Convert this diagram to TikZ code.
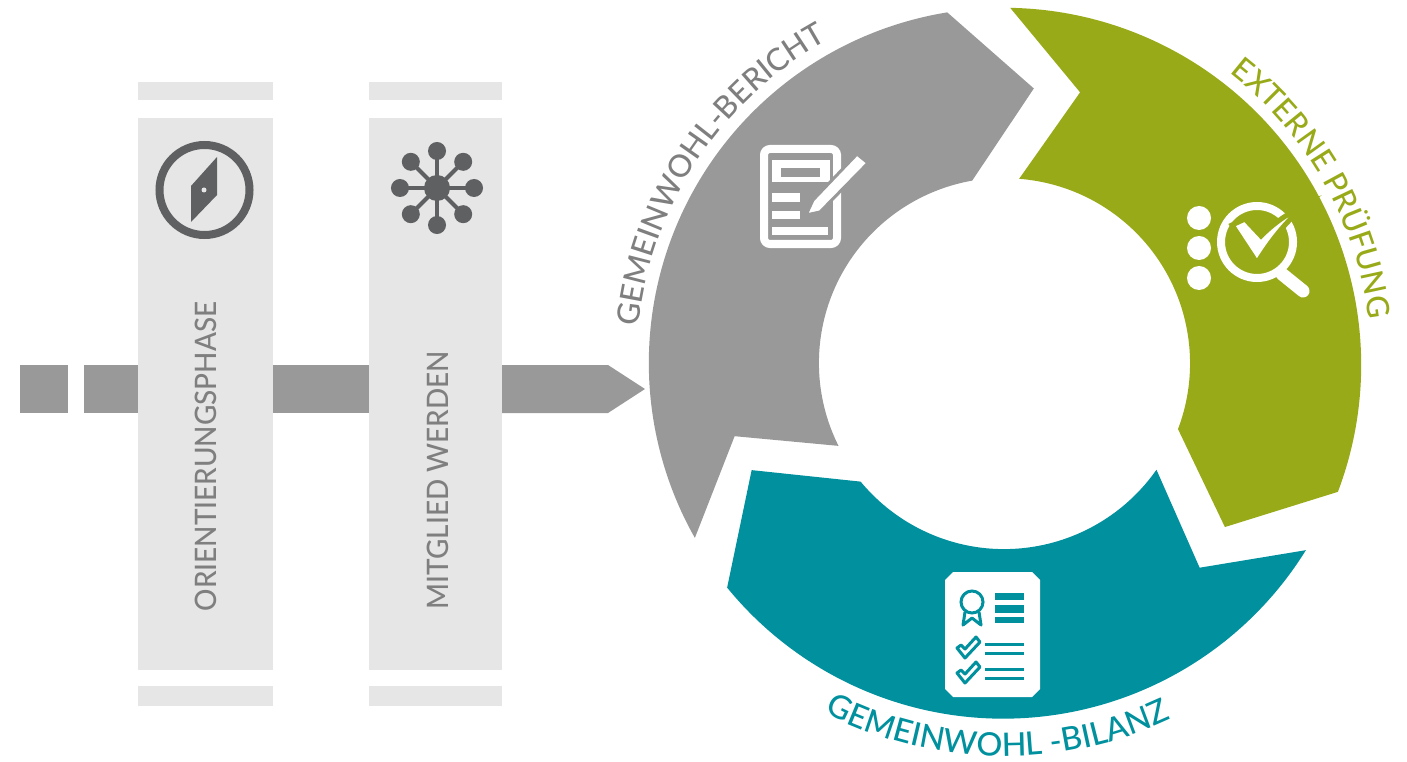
\documentclass[tikz,border=0pt]{standalone}
\usepackage{fontspec}
\setsansfont{Lato}
\newfontfamily\gwfont[FakeStretch=0.945]{Lato Medium}
\newfontfamily\ringface{Lato Medium}
\usetikzlibrary{decorations.text}

\definecolor{gwgrey}{HTML}{999999}
\definecolor{gwlight}{HTML}{E6E6E6}
\definecolor{gwdark}{HTML}{5E6062}
\definecolor{gwtext}{HTML}{7F7F7F}
\definecolor{gwgreen}{HTML}{99AA19}
\definecolor{gwteal}{HTML}{00909E}

\newcommand{\ringfont}{\ringface\fontsize{8.8}{9}\selectfont}
\newcommand{\bottomfont}{\ringface\fontsize{9.2}{9}\selectfont}

\tikzset{
    lightbar/.style={fill=gwlight},
    greybar/.style={fill=gwgrey},
    phaselabel/.style={rotate=90, text=gwtext, font=\gwfont\fontsize{8.4}{9}\selectfont, inner sep=0pt},
    whiteline/.style={fill=white}
}

\begin{document}
\begin{tikzpicture}[x=0.01cm, y=-0.01cm]
    \useasboundingbox (0,0) rectangle (1407,761);

    % Phase columns
    \foreach \xa/\xb in {138/273, 369/502} {
        \fill[lightbar] (\xa,82) rectangle (\xb,100);
        \fill[lightbar] (\xa,118) rectangle (\xb,670);
        \fill[lightbar] (\xa,686) rectangle (\xb,706);
    }
    \node[phaselabel] (orientierung) at (206,456.5) {ORIENTIERUNGSPHASE};
    \node[phaselabel] (mitglied) at (437.5,480) {MITGLIED WERDEN};

    % Grey arrow pieces
    \foreach \xa/\xb in {20/68, 84/138, 273/369} {
        \fill[greybar] (\xa,365) rectangle (\xb,413);
    }
    \fill[greybar] (502,365) -- (608,365) -- (645,389) -- (608,413) -- (502,413) -- cycle;

    % Compass
    \draw[gwdark, line width=0.08cm] (204.5,190) circle (45);
    \fill[gwdark] (217,157) -- (191,186) -- (191,222) -- (217,195) -- cycle;
    \fill[gwlight] (204,190) circle (2.5);

    % Network
    \foreach \a in {0,45,...,315} {
        \draw[gwdark, line width=0.04cm] (437,188) -- +(\a:0.37cm);
        \fill[gwdark] (437,188) ++(\a:0.37cm) circle (9);
    }
    \fill[gwdark] (437,188) circle (13);

    % Ring segments
    \begin{scope}[shift={(1004,363)}]
        \fill[gwgrey] (99.2:3.55cm) arc[start angle=99.2, end angle=209.5, radius=3.55cm]
            -- (195.2:2.79cm) -- (206.6:1.85cm)
            arc[start angle=206.6, end angle=99.9, radius=1.85cm] -- (83.8:2.76cm) -- cycle;
        \fill[gwgreen] (89:3.55cm) arc[start angle=89, end angle=-20.8, radius=3.57cm]
            -- (-36.6:2.75cm) -- (-20.8:1.86cm)
            arc[start angle=-20.8, end angle=85.6, radius=1.85cm] -- (74.3:2.81cm) -- cycle;
        \fill[gwteal] (-31.8:3.55cm) arc[start angle=-31.8, end angle=-140.8, radius=3.56cm]
            -- (203:2.74cm) -- (219.6:1.86cm)
            arc[start angle=219.6, end angle=325, radius=1.86cm] -- (-46.3:2.83cm) -- cycle;

        % Ring labels
        \path[decorate, decoration={text along path, text align=center,
            text={|\ringfont\color{gwtext}|GEMEINWOHL-BERICHT}}]
            (178:3.67cm) arc[start angle=178, end angle=115, radius=3.67cm];
        \path[decorate, decoration={text along path, text align=center,
            text={|\ringfont\color{gwgreen}|EXTERNE PRÜFUNG}}]
            (55:3.67cm) arc[start angle=55, end angle=4, radius=3.67cm];
        \path[decorate, decoration={text along path, text align=center,
            text={|\bottomfont\color{gwteal}|GEMEINWOHL -BILANZ}}]
            (238:3.93cm) arc[start angle=238, end angle=300, radius=3.93cm];
    \end{scope}

    % Report icon
    \draw[white, line width=0.08cm, rounded corners=0.06cm] (764,149) rectangle (837,244);
    \fill[white] (772,160) rectangle (830,182);
    \fill[gwgrey] (781,168) rectangle (820,177);
    \foreach \ya/\yb/\xb in {193/202/800, 211/219/800, 227/235/828} {
        \fill[whiteline] (772,\ya) rectangle (\xb,\yb);
    }
    \filldraw[fill=white, draw=gwgrey, line width=0.03cm] (857,154) -- (868,163) -- (820,212) -- (806,215) -- (813,200) -- cycle;

    % Check icon
    \foreach \y in {218, 248, 278} {
        \fill[white] (1199,\y) circle (12);
    }
    \draw[white, line width=0.08cm] (1257,242) circle (36);
    \draw[white, line width=0.13cm, line cap=round] (1282,274) -- (1303,291);
    \filldraw[fill=white, draw=gwgreen, line width=0.05cm] (1232,225) -- (1245,219) -- (1261,236)
        .. controls (1275,222) and (1290,212) .. (1306,205)
        .. controls (1285,222) and (1270,242) .. (1257,263) -- cycle;

    % Balance sheet icon
    \fill[white] (953,572) -- (1032,572) -- (1040,580) -- (1040,689) -- (1032,697)
        -- (953,697) -- (945,689) -- (945,580) -- cycle;
    \draw[gwteal, line width=0.03cm] (972,602) circle (11);
    \draw[gwteal, line width=0.03cm, line join=round] (965,612) -- (963,625) -- (972,618) -- (981,625) -- (979,612);
    \foreach \ya/\yb in {593/600, 605/613, 617/623} {
        \fill[gwteal] (995,\ya) rectangle (1024,\yb);
    }
    \foreach \d in {0, 25} {
        \draw[gwteal, line width=0.03cm, line join=round] (957,648+\d) -- (965,658+\d) -- (980,642+\d)
            -- (976,637+\d) -- (965,649+\d) -- (961,645+\d) -- cycle;
        \draw[gwteal, line width=0.03cm] (985,644+\d) -- (1024,644+\d);
        \draw[gwteal, line width=0.03cm] (985,653+\d) -- (1024,653+\d);
    }
\end{tikzpicture}
\end{document}
